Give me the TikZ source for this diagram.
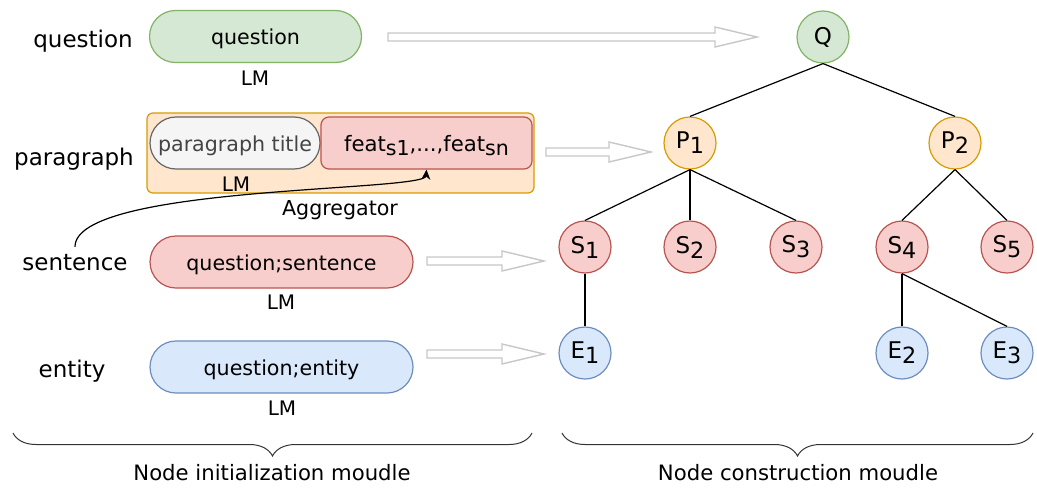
\documentclass[tikz,border=0pt]{standalone}
\usepackage{fontspec}
\setmainfont{DejaVu Sans}
\usepackage{tikz}
\usetikzlibrary{positioning}
\usetikzlibrary{arrows,arrows.meta,shapes}
\usetikzlibrary{decorations.pathreplacing}
\usetikzlibrary{calc}
\definecolor{qfill}{HTML}{D5E8D4}
\definecolor{qline}{HTML}{82B366}
\definecolor{pfill}{HTML}{FFE6CC}
\definecolor{pline}{HTML}{D79B00}
\definecolor{sfill}{HTML}{F8CECC}
\definecolor{sline}{HTML}{B85450}
\definecolor{efill}{HTML}{DAE8FC}
\definecolor{eline}{HTML}{6C8EBF}
\definecolor{tfill}{HTML}{F5F5F5}
\definecolor{tline}{HTML}{666666}
\definecolor{ttext}{HTML}{444444}
\newcommand{\lowsub}[1]{\raisebox{-0.4ex}{\scalebox{0.97}{#1}}}
\tikzstyle{vertex}=[circle,draw,line width=0.6pt,minimum size=26pt,inner sep=0pt,font=\fontsize{11.5}{12}\selectfont]
\tikzstyle{pill}=[draw,line width=0.6pt,rounded corners=13pt,minimum height=26pt,inner sep=0pt,text height=8pt,text depth=0pt,font=\fontsize{10.3}{12}\selectfont]
\tikzstyle{treeedge}=[draw,line width=0.6pt]
\tikzstyle{blockarrow}=[draw=black!22,fill=white,line width=0.7pt]
\tikzstyle{rowlabel}=[anchor=base,font=\fontsize{11.5}{12}\selectfont]
\tikzstyle{lmlabel}=[anchor=base,font=\fontsize{10}{12}\selectfont]
\tikzstyle{modlabel}=[anchor=base,font=\fontsize{10.6}{12}\selectfont]
\tikzstyle{modbrace}=[draw=black!80,line width=0.5pt,decorate,decoration={brace,mirror,amplitude=11.5pt}]

\begin{document}
\begin{tikzpicture}[x=0.5pt,y=-0.5pt]
    \useasboundingbox (0,0) rectangle (1037,487);

    % row labels
    \node[rowlabel] (lblq) at (83,47) {question};
    \node[rowlabel] (lblp) at (74,165) {paragraph};
    \node[rowlabel] (lbls) at (75,270) {sentence};
    \node[rowlabel] (lble) at (72,377) {entity};

    % encoders
    \node[pill,fill=qfill,draw=qline,minimum width=106pt] (qbox) at (255.5,36.5) {question};
    \node[draw=pline,fill=pfill,line width=0.6pt,rounded corners=3pt,minimum width=193.5pt,minimum height=40pt] (outerbox) at (340.5,153) {};
    \node[pill,fill=tfill,draw=tline,text=ttext,minimum width=85pt] (titlebox) at (235,143) {paragraph title};
    \node[pill,fill=sfill,draw=sline,rounded corners=4pt,minimum width=105.5pt,font=\fontsize{10.6}{12}\selectfont] (featbox) at (426.5,143) {feat\lowsub{s1},...,feat\lowsub{sn}};
    \node[pill,fill=sfill,draw=sline,minimum width=131.5pt] (sentbox) at (281.5,262) {question;sentence};
    \node[pill,fill=efill,draw=eline,minimum width=131.5pt] (entbox) at (281.5,367) {question;entity};

    \node[lmlabel] (lmq) at (255,85) {LM};
    \node[lmlabel] (lmp) at (236,191) {LM};
    \node[lmlabel] (lms) at (281,309) {LM};
    \node[lmlabel] (lme) at (282,415) {LM};
    \node[lmlabel,font=\fontsize{10.3}{12}\selectfont] (agg) at (340,215) {Aggregator};

    \draw[line width=0.6pt,-{Stealth[length=5pt,width=4.5pt]}] (lbls.north) .. controls (75,185) and (425,192) .. (featbox.south);

    % hollow arrows
    \foreach \xa/\xb/\ya in {388/757/37, 546/651/152, 427/544/261, 427/544/354}
        \draw[blockarrow] (\xa,\ya-4) -- (\xb-42,\ya-4) -- (\xb-42,\ya-10) -- (\xb,\ya) -- (\xb-42,\ya+10) -- (\xb-42,\ya+4) -- (\xa,\ya+4) -- cycle;

    % tree
    \foreach \pos/\name/\label in {{(823,37)/Q/Q}}
        \node[vertex,draw=qline,fill=qfill] (\name) at \pos {\label};
    \foreach \pos/\name/\label in {{(690,143)/P1/P\lowsub{1}}, {(955,143)/P2/P\lowsub{2}}}
        \node[vertex,draw=pline,fill=pfill] (\name) at \pos {\label};
    \foreach \pos/\name/\label in {{(585,247)/S1/S\lowsub{1}}, {(690,247)/S2/S\lowsub{2}}, {(796,247)/S3/S\lowsub{3}}, {(902,247)/S4/S\lowsub{4}}, {(1007,247)/S5/S\lowsub{5}}}
        \node[vertex,draw=sline,fill=sfill] (\name) at \pos {\label};
    \foreach \pos/\name/\label in {{(585,353)/E1/E\lowsub{1}}, {(902,353)/E2/E\lowsub{2}}, {(1007,353)/E3/E\lowsub{3}}}
        \node[vertex,draw=eline,fill=efill] (\name) at \pos {\label};

    \foreach \source/\dest in {Q/P1, Q/P2, P1/S1, P1/S2, P1/S3, P2/S4, P2/S5, S1/E1, S4/E2, S4/E3}
        \path[treeedge] (\source.south) -- (\dest.north);

    % modules
    \coordinate (initl) at (13,433);
    \coordinate (initr) at (532,433);
    \coordinate (consl) at (562,433);
    \coordinate (consr) at (1033,433);
    \draw[modbrace] (initl) -- (initr);
    \draw[modbrace] (consl) -- (consr);
    \node[modlabel] (initlbl) at (272,480) {Node initialization moudle};
    \node[modlabel] (conslbl) at (798,480) {Node construction moudle};

\end{tikzpicture}
\end{document}
